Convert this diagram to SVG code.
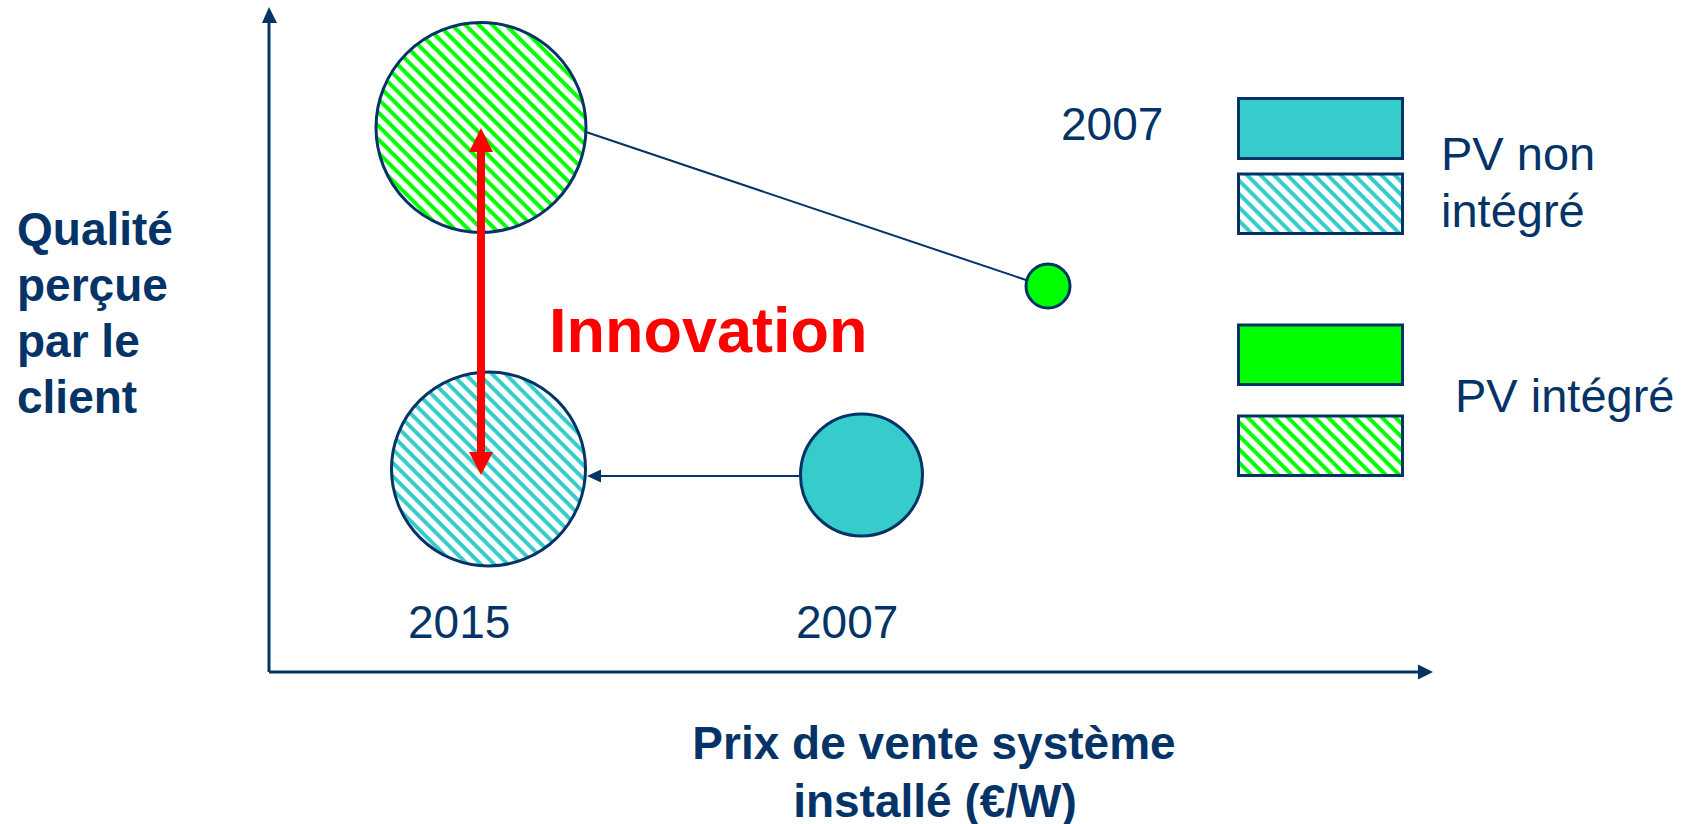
<svg xmlns="http://www.w3.org/2000/svg" width="1689" height="824" viewBox="0 0 1689 824">
<defs>
<style>
.lbl{font-family:"Liberation Sans",Arial,sans-serif;fill:#043467;font-size:46px}
.lg{font-size:47px}
.node{stroke:#043467;stroke-width:3}
.ax{stroke:#043467;stroke-width:3;fill:none}
.con{stroke:#043467;stroke-width:2;fill:none}
</style>
<pattern id="hg" patternUnits="userSpaceOnUse" width="9.5" height="9.5" patternTransform="rotate(45)">
<rect width="9.5" height="9.5" fill="#fff"/>
<rect width="9.5" height="4" fill="#00FF00"/>
</pattern>
<pattern id="hc" patternUnits="userSpaceOnUse" width="9.5" height="9.5" patternTransform="rotate(45)">
<rect width="9.5" height="9.5" fill="#fff"/>
<rect width="9.5" height="4" fill="#36CCCC"/>
</pattern>
</defs>
<rect width="1689" height="824" fill="#fff"/>

<g id="axes">
<line class="ax" x1="269" y1="672" x2="269" y2="22"/>
<path d="M262,23 L269,7 L277,23 Z" fill="#043467"/>
<line class="ax" x1="269" y1="672" x2="1419" y2="672"/>
<path d="M1418,664.5 L1433,672 L1418,679.5 Z" fill="#043467"/>
</g>

<g id="connectors">
<line class="con" x1="586" y1="132" x2="1026" y2="280"/>
<line class="con" x1="799" y1="476" x2="600" y2="476"/>
<path d="M601,469.5 L587,476 L601,482.5 Z" fill="#043467"/>
</g>

<g id="node-2015-integre">
<circle class="node" cx="481" cy="127.5" r="105" fill="url(#hg)"/>
</g>
<g id="node-2015-non-integre">
<circle class="node" cx="488.5" cy="469" r="97" fill="url(#hc)"/>
</g>
<g id="node-2007-non-integre">
<circle class="node" cx="861.5" cy="475" r="61" fill="#36CCCC"/>
</g>
<g id="node-2007-integre">
<circle class="node" cx="1048" cy="286" r="22" fill="#00FF00"/>
</g>

<g id="innovation-arrow">
<rect x="477" y="150" width="8" height="304" fill="#FF0000"/>
<path d="M469,152 L481,128 L493,152 Z" fill="#FF0000"/>
<path d="M469,452 L481,475 L493,452 Z" fill="#FF0000"/>
</g>

<g id="labels">
<text class="lbl" x="17" y="245" font-weight="bold">Qualité</text>
<text class="lbl" x="17" y="301" font-weight="bold">perçue</text>
<text class="lbl" x="17" y="357" font-weight="bold">par le</text>
<text class="lbl" x="17" y="413" font-weight="bold">client</text>
<text class="lbl" x="934" y="759" text-anchor="middle" font-weight="bold">Prix de vente système</text>
<text class="lbl" x="935" y="817" text-anchor="middle" font-weight="bold">installé (€/W)</text>
<text x="549" y="352" font-family="'Liberation Sans',Arial,sans-serif" font-size="63" font-weight="bold" fill="#FF0000">Innovation</text>
<text class="lbl" x="408" y="638">2015</text>
<text class="lbl" x="796" y="638">2007</text>
<text class="lbl" x="1061" y="140">2007</text>
</g>

<g id="legend">
<rect class="node" x="1238.5" y="98.5" width="164" height="60" fill="#36CCCC"/>
<rect class="node" x="1238.5" y="174" width="164" height="59.5" fill="url(#hc)"/>
<rect class="node" x="1238.5" y="325" width="164" height="59.5" fill="#00FF00"/>
<rect class="node" x="1238.5" y="416" width="164" height="59.5" fill="url(#hg)"/>
<text class="lbl lg" x="1441" y="170">PV non</text>
<text class="lbl lg" x="1441" y="227">intégré</text>
<text class="lbl lg" x="1455" y="412">PV intégré</text>
</g>
</svg>
